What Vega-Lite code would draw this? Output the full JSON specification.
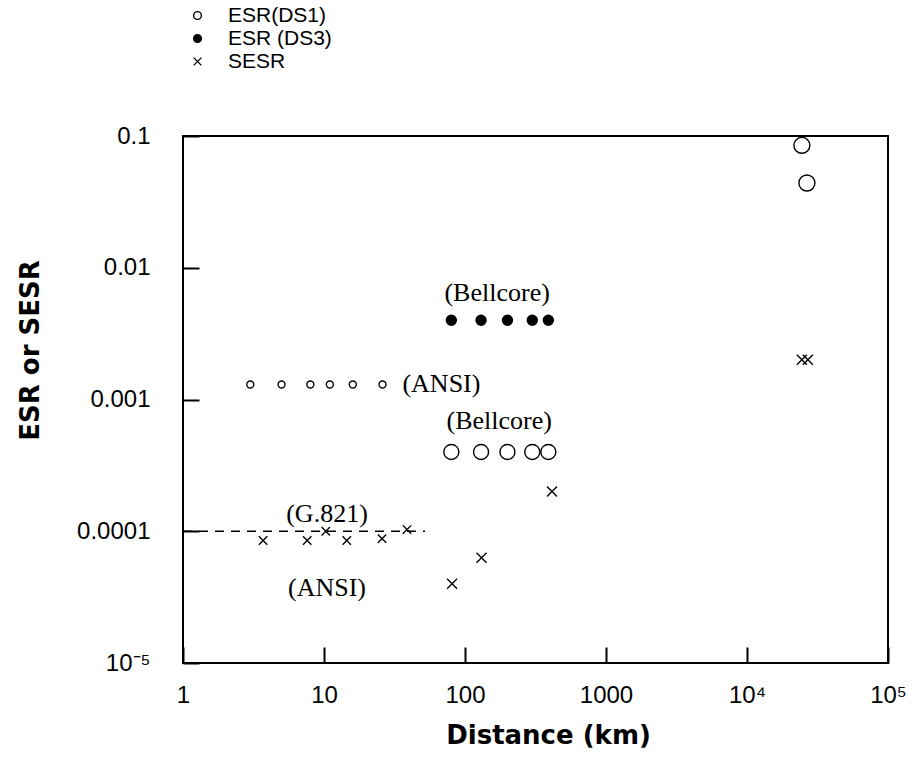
{
  "$schema": "https://vega.github.io/schema/vega-lite/v6.json",
  "width": 705,
  "height": 527,
  "autosize": {"type": "none"},
  "padding": {"left": 183, "top": 136, "right": 30, "bottom": 97},
  "background": "white",
  "config": {
    "view": {"stroke": "black", "strokeWidth": 2},
    "axis": {
      "domain": false,
      "grid": false,
      "labelFlush": false,
      "tickColor": "black",
      "tickWidth": 2,
      "tickSize": -16,
      "labelFont": "Liberation Sans",
      "labelFontSize": 24,
      "labelColor": "black",
      "titleFont": "DejaVu Sans",
      "titleFontSize": 26,
      "titleFontWeight": "bold",
      "titleColor": "black"
    },
    "legend": {
      "orient": "none",
      "legendX": 4,
      "legendY": -131,
      "labelFont": "Liberation Sans",
      "labelFontSize": 21,
      "labelColor": "black",
      "labelLimit": 0,
      "labelOffset": 20,
      "symbolStrokeColor": "black",
      "symbolStrokeWidth": 1.4,
      "symbolSize": 60,
      "rowPadding": 1
    }
  },
  "datasets": {
    "points": [
      {"series": "ESR(DS1)", "group": "DS1 ANSI", "distance": 3, "rate": 0.0013},
      {"series": "ESR(DS1)", "group": "DS1 ANSI", "distance": 5, "rate": 0.0013},
      {"series": "ESR(DS1)", "group": "DS1 ANSI", "distance": 8, "rate": 0.0013},
      {"series": "ESR(DS1)", "group": "DS1 ANSI", "distance": 11, "rate": 0.0013},
      {"series": "ESR(DS1)", "group": "DS1 ANSI", "distance": 16, "rate": 0.0013},
      {"series": "ESR(DS1)", "group": "DS1 ANSI", "distance": 26, "rate": 0.0013},
      {"series": "ESR(DS1)", "group": "DS1 Bellcore", "distance": 80, "rate": 0.0004},
      {"series": "ESR(DS1)", "group": "DS1 Bellcore", "distance": 130, "rate": 0.0004},
      {"series": "ESR(DS1)", "group": "DS1 Bellcore", "distance": 200, "rate": 0.0004},
      {"series": "ESR(DS1)", "group": "DS1 Bellcore", "distance": 300, "rate": 0.0004},
      {"series": "ESR(DS1)", "group": "DS1 Bellcore", "distance": 390, "rate": 0.0004},
      {"series": "ESR(DS1)", "group": "DS1 Intl", "distance": 24500, "rate": 0.085},
      {"series": "ESR(DS1)", "group": "DS1 Intl", "distance": 26600, "rate": 0.044},
      {"series": "ESR (DS3)", "group": "DS3 Bellcore", "distance": 80, "rate": 0.004},
      {"series": "ESR (DS3)", "group": "DS3 Bellcore", "distance": 130, "rate": 0.004},
      {"series": "ESR (DS3)", "group": "DS3 Bellcore", "distance": 200, "rate": 0.004},
      {"series": "ESR (DS3)", "group": "DS3 Bellcore", "distance": 300, "rate": 0.004},
      {"series": "ESR (DS3)", "group": "DS3 Bellcore", "distance": 390, "rate": 0.004},
      {"series": "SESR", "group": "SESR ANSI", "distance": 3.7, "rate": 0.000085},
      {"series": "SESR", "group": "SESR ANSI", "distance": 7.6, "rate": 0.000085},
      {"series": "SESR", "group": "SESR ANSI", "distance": 10.3, "rate": 0.0001},
      {"series": "SESR", "group": "SESR ANSI", "distance": 14.5, "rate": 0.000085},
      {"series": "SESR", "group": "SESR ANSI", "distance": 25.8, "rate": 0.000088},
      {"series": "SESR", "group": "SESR ANSI", "distance": 38.8, "rate": 0.000103},
      {"series": "SESR", "group": "SESR Bellcore", "distance": 81, "rate": 0.00004},
      {"series": "SESR", "group": "SESR Bellcore", "distance": 131, "rate": 0.000063},
      {"series": "SESR", "group": "SESR Bellcore", "distance": 414, "rate": 0.0002},
      {"series": "SESR", "group": "SESR Intl", "distance": 24500, "rate": 0.002},
      {"series": "SESR", "group": "SESR Intl", "distance": 27000, "rate": 0.002}
    ],
    "reference": [
      {"distance": 1, "distance_end": 52, "rate": 0.0001}
    ],
    "notesCentered": [
      {"label": "(Bellcore)", "distance": 169, "rate": 0.0064},
      {"label": "(Bellcore)", "distance": 175, "rate": 0.00069},
      {"label": "(G.821)", "distance": 10.5, "rate": 0.000136},
      {"label": "(ANSI)", "distance": 10.5, "rate": 0.000037}
    ],
    "notesLeft": [
      {"label": "(ANSI)", "distance": 36, "rate": 0.0013}
    ]
  },
  "encoding": {
    "x": {
      "field": "distance",
      "type": "quantitative",
      "title": "Distance  (km)",
      "scale": {"type": "log", "domain": [1, 100000]},
      "axis": {
        "values": [1, 10, 100, 1000, 10000, 100000],
        "labelExpr": "datum.value < 5 ? '1' : datum.value < 50 ? '10' : datum.value < 500 ? '100' : datum.value < 5000 ? '1000' : datum.value < 50000 ? '10⁴' : '10⁵'",
        "labelPadding": 36,
        "titleX": 365,
        "titleY": 72,
        "titleBaseline": "middle"
      }
    },
    "y": {
      "field": "rate",
      "type": "quantitative",
      "title": "ESR or SESR",
      "scale": {"type": "log", "domain": [0.00001, 0.1]},
      "axis": {
        "values": [0.00001, 0.0001, 0.001, 0.01, 0.1],
        "labelExpr": "datum.value < 0.00002 ? '10⁻⁵' : datum.value < 0.0002 ? '0.0001' : datum.value < 0.002 ? '0.001' : datum.value < 0.02 ? '0.01' : '0.1'",
        "labelPadding": 49,
        "titleX": -153,
        "titleY": 214,
        "titleBaseline": "middle"
      }
    },
    "shape": {
      "field": "series",
      "type": "nominal",
      "title": null,
      "scale": {
        "domain": ["ESR(DS1)", "ESR (DS3)", "SESR"],
        "range": ["circle", "circle", "M-1,-1L1,1M-1,1L1,-1"]
      }
    },
    "fill": {
      "field": "series",
      "type": "nominal",
      "title": null,
      "scale": {
        "domain": ["ESR(DS1)", "ESR (DS3)", "SESR"],
        "range": ["transparent", "black", "transparent"]
      }
    },
    "stroke": {
      "field": "series",
      "type": "nominal",
      "title": null,
      "scale": {
        "domain": ["ESR(DS1)", "ESR (DS3)", "SESR"],
        "range": ["black", "black", "black"]
      }
    }
  },
  "layer": [
    {
      "data": {"name": "reference"},
      "mark": {"type": "rule", "color": "black", "strokeWidth": 1.5, "strokeDash": [9, 7]},
      "encoding": {
        "x2": {"field": "distance_end"},
        "shape": null,
        "fill": null,
        "stroke": null
      }
    },
    {
      "data": {"name": "points"},
      "transform": [{"filter": {"field": "group", "equal": "DS1 ANSI"}}],
      "mark": {"type": "point", "strokeWidth": 1.4, "opacity": 1, "size": 49}
    },
    {
      "data": {"name": "points"},
      "transform": [{"filter": {"field": "group", "equal": "DS1 Bellcore"}}],
      "mark": {"type": "point", "strokeWidth": 1.4, "opacity": 1, "size": 225}
    },
    {
      "data": {"name": "points"},
      "transform": [{"filter": {"field": "group", "equal": "DS1 Intl"}}],
      "mark": {"type": "point", "strokeWidth": 1.4, "opacity": 1, "size": 256}
    },
    {
      "data": {"name": "points"},
      "transform": [{"filter": {"field": "group", "equal": "DS3 Bellcore"}}],
      "mark": {"type": "point", "strokeWidth": 1.4, "opacity": 1, "size": 100}
    },
    {
      "data": {"name": "points"},
      "transform": [{"filter": {"field": "group", "oneOf": ["SESR ANSI"]}}],
      "mark": {"type": "point", "strokeWidth": 1.4, "opacity": 1, "size": 70}
    },
    {
      "data": {"name": "points"},
      "transform": [{"filter": {"field": "group", "oneOf": ["SESR Bellcore", "SESR Intl"]}}],
      "mark": {"type": "point", "strokeWidth": 1.4, "opacity": 1, "size": 100}
    },
    {
      "data": {"name": "notesCentered"},
      "mark": {"type": "text", "font": "Liberation Serif", "fontSize": 26, "color": "black", "align": "center", "baseline": "middle"},
      "encoding": {"text": {"field": "label"}, "shape": null, "fill": null, "stroke": null}
    },
    {
      "data": {"name": "notesLeft"},
      "mark": {"type": "text", "font": "Liberation Serif", "fontSize": 26, "color": "black", "align": "left", "baseline": "middle"},
      "encoding": {"text": {"field": "label"}, "shape": null, "fill": null, "stroke": null}
    }
  ]
}
